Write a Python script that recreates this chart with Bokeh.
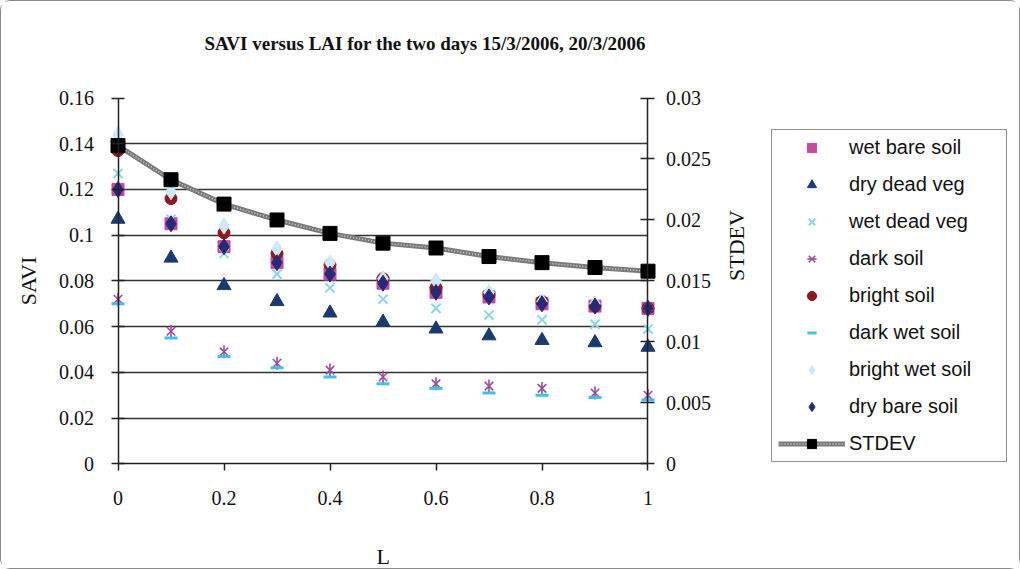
import math
from bokeh.plotting import figure
from bokeh.models import (Range1d, LinearAxis, FixedTicker, CustomJSTickFormatter,
                          Legend, LegendItem, ColumnDataSource, Title)
from bokeh.embed import file_html
from bokeh.resources import INLINE

# ---------------- data ----------------
L = [0.0, 0.1, 0.2, 0.3, 0.4, 0.5, 0.6, 0.7, 0.8, 0.9, 1.0]
wet_bare_soil = [0.120, 0.105, 0.095, 0.088, 0.083, 0.079, 0.075, 0.073, 0.070, 0.069, 0.068]
dry_dead_veg = [0.107, 0.090, 0.078, 0.071, 0.066, 0.062, 0.059, 0.056, 0.054, 0.053, 0.051]
wet_dead_veg = [0.127, 0.107, 0.092, 0.083, 0.077, 0.072, 0.068, 0.065, 0.063, 0.061, 0.059]
dark_soil = [0.072, 0.058, 0.049, 0.044, 0.041, 0.038, 0.035, 0.034, 0.033, 0.031, 0.030]
bright_soil = [0.137, 0.116, 0.101, 0.092, 0.087, 0.081, 0.077, 0.074, 0.071, 0.069, 0.068]
dark_wet_soil = [0.070, 0.055, 0.047, 0.042, 0.038, 0.035, 0.033, 0.031, 0.030, 0.029, 0.028]
bright_wet_soil = [0.144, 0.119, 0.104, 0.094, 0.088, 0.081, 0.080, 0.075, 0.071, 0.070, 0.068]
dry_bare_soil = [0.120, 0.105, 0.095, 0.088, 0.083, 0.079, 0.075, 0.073, 0.070, 0.069, 0.068]
stdev = [0.0261, 0.0233, 0.0213, 0.0200, 0.0189, 0.0181, 0.0177, 0.0170, 0.0165, 0.0161, 0.0158]

x_ticks = [0, 0.2, 0.4, 0.6, 0.8, 1.0]
savi_ticks = [0, 0.02, 0.04, 0.06, 0.08, 0.1, 0.12, 0.14, 0.16]
grid_ticks = [0.02, 0.04, 0.06, 0.08, 0.1, 0.12, 0.14]
stdev_ticks = [0, 0.005, 0.01, 0.015, 0.02, 0.025, 0.03]

title_text = "SAVI versus  LAI for the two days 15/3/2006, 20/3/2006"
x_label = "L"
y_label = "SAVI"
y2_label = "STDEV"

# ---------------- figure ----------------
# The plot frame covers almost the whole page; the three axes are pinned at
# L=0, L=1 and SAVI=0 so that nothing near them is clipped.
SERIF = "Liberation Serif"
p = figure(width=1020, height=569, output_backend="svg", toolbar_location=None,
           x_range=Range1d(-0.2104, 1.6953), y_range=Range1d(-0.03353, 0.16723),
           min_border_left=5, min_border_right=5, min_border_top=80,
           min_border_bottom=0)
p.extra_y_ranges = {"stdev": Range1d(-0.006288, 0.031356)}
p.outline_line_color = None
p.background_fill_color = "white"
p.border_fill_color = "white"

p.add_layout(Title(text=title_text, align="left", offset=198, standoff=55,
                   text_font=SERIF, text_font_size="19px", text_font_style="bold",
                   text_color="#111111"), "above")
p.add_layout(Title(text=x_label, align="left", offset=370, standoff=3,
                   text_font=SERIF, text_font_size="22px", text_font_style="normal",
                   text_color="#111111"), "below")

src = ColumnDataSource(dict(L=L, wbs=wet_bare_soil, ddv=dry_dead_veg, wdv=wet_dead_veg,
                            ds=dark_soil, bs=bright_soil, dws=dark_wet_soil,
                            bws=bright_wet_soil, dbs=dry_bare_soil, sd=stdev))

r_wbs = p.scatter("L", "wbs", source=src, marker="square", size=12,
                  fill_color="#C54A9E", line_color="#C54A9E")
r_ddv = p.scatter("L", "ddv", source=src, marker="triangle", size=14,
                  fill_color="#1B3B6F", line_color="#1B3B6F")
r_wdv = p.scatter("L", "wdv", source=src, marker="x", size=13,
                  line_color="#8ED6E6", line_width=2)
r_ds1 = p.scatter("L", "ds", source=src, marker="x", size=12,
                  line_color="#9A4C9E", line_width=1.6)
r_ds2 = p.scatter("L", "ds", source=src, marker="dash", size=13, angle=math.pi / 2,
                  line_color="#9A4C9E", line_width=1.6)
r_bs = p.scatter("L", "bs", source=src, marker="circle", size=12,
                 fill_color="#8B1B1E", line_color="#8B1B1E")
r_dws = p.scatter("L", "dws", source=src, marker="dash", size=13,
                  line_color="#3FC0EE", line_width=3)
r_bws = p.scatter("L", "bws", source=src, marker="diamond", size=16,
                  fill_color="#CDEAF4", line_color="#CDEAF4")
r_dbs = p.scatter("L", "dbs", source=src, marker="diamond", size=16,
                  fill_color="#262A78", line_color="#262A78")
r_sdl = p.line("L", "sd", source=src, y_range_name="stdev", line_color="#7a7a7a",
               line_width=5)
r_sdl2 = p.line("L", "sd", source=src, y_range_name="stdev", line_color="#cfcfcf",
                line_width=1.5, line_dash="1 2")
r_sdm = p.scatter("L", "sd", source=src, y_range_name="stdev", marker="square", size=14,
                  fill_color="black", line_color="black")

# ---------------- axes ----------------
def style_axis(ax, ticks, digits):
    ax.ticker = FixedTicker(ticks=ticks)
    ax.formatter = CustomJSTickFormatter(
        code="return parseFloat(tick.toFixed(%d)).toString();" % digits)
    ax.major_label_text_font = SERIF
    ax.major_label_text_font_size = "20px"
    ax.major_label_text_color = "#111111"
    ax.axis_label_text_font = SERIF
    ax.axis_label_text_font_size = "22px"
    ax.axis_label_text_font_style = "normal"
    ax.axis_label_text_color = "#111111"
    ax.axis_line_color = "#222222"
    ax.axis_line_width = 1.5
    ax.major_tick_line_color = "#222222"
    ax.major_tick_line_width = 1.5
    ax.minor_tick_line_color = None

xa = p.xaxis[0]
style_axis(xa, x_ticks, 1)
xa.fixed_location = 0
xa.bounds = (0, 1)
xa.major_tick_in = 0
xa.major_tick_out = 7
xa.major_label_standoff = 20

ya = p.yaxis[0]
style_axis(ya, savi_ticks, 2)
ya.axis_label = y_label
ya.fixed_location = 0
ya.bounds = (0, 0.16)
ya.major_tick_in = 6
ya.major_tick_out = 7
ya.major_label_standoff = 17
ya.axis_label_standoff = 16

ra = LinearAxis(y_range_name="stdev", axis_label=y2_label)
style_axis(ra, stdev_ticks, 3)
ra.fixed_location = 1
ra.bounds = (0, 0.03)
ra.major_tick_in = 7
ra.major_tick_out = 7
ra.major_label_standoff = 11
ra.axis_label_standoff = 23
ra.axis_label_orientation = math.pi / 2
p.add_layout(ra, "right")

p.xgrid.visible = False
p.ygrid.ticker = FixedTicker(ticks=grid_ticks)
p.ygrid.cross_bounds = (0, 1)
p.ygrid.grid_line_color = "#333333"
p.ygrid.grid_line_width = 1.5

# ---------------- legend ----------------
legend = Legend(items=[
    LegendItem(label="wet bare soil", renderers=[r_wbs]),
    LegendItem(label="dry dead veg", renderers=[r_ddv]),
    LegendItem(label="wet dead veg", renderers=[r_wdv]),
    LegendItem(label="dark soil", renderers=[r_ds1, r_ds2]),
    LegendItem(label="bright soil", renderers=[r_bs]),
    LegendItem(label="dark wet soil", renderers=[r_dws]),
    LegendItem(label="bright wet soil", renderers=[r_bws]),
    LegendItem(label="dry bare soil", renderers=[r_dbs]),
    LegendItem(label="STDEV", renderers=[r_sdl, r_sdl2, r_sdm]),
], location=(765, 78))
legend.border_line_color = "#222222"
legend.border_line_width = 1.5
legend.background_fill_color = "white"
legend.background_fill_alpha = 1.0
legend.label_text_font = "Liberation Sans"
legend.label_text_font_size = "20px"
legend.label_text_color = "#111111"
legend.glyph_width = 67
legend.glyph_height = 23
legend.label_height = 23
legend.spacing = 14
legend.padding = 6
legend.label_standoff = 4
legend.label_width = 151
legend.margin = 0
p.add_layout(legend, "center")

p.styles = {"border": "1.5px solid #8a8a8a", "border-radius": "10px", "box-sizing": "border-box"}

open("out.html", "w").write(file_html(p, INLINE))
